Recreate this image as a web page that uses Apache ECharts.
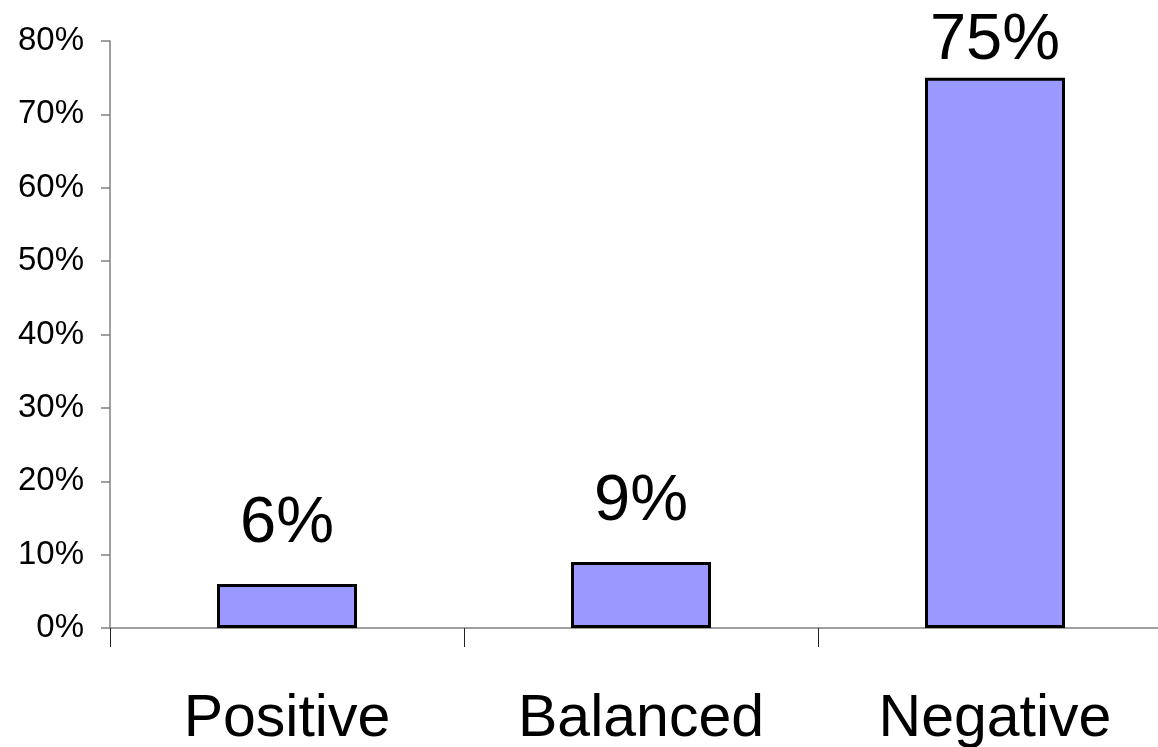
<!DOCTYPE html>
<html>
<head>
<meta charset="utf-8">
<script src="https://cdn.jsdelivr.net/npm/echarts@6/dist/echarts.min.js"></script>
<style>
  html, body { margin: 0; padding: 0; background: #ffffff; }
  #chart { width: 1158px; height: 747px; }
</style>
</head>
<body>
<div id="chart"></div>
<script>
// Share of responses by tone (percent)
const categories = ['Positive', 'Balanced', 'Negative'];
const shares = [6, 9, 75];
const yTicks = { min: 0, max: 80, interval: 10 };

// Value labels sit well above the bars, except when a tall bar leaves no room under the top edge
const barData = shares.map(v => ({
  value: v,
  label: { distance: v > yTicks.max - 10 ? 4 : 27 }
}));

const chart = echarts.init(document.getElementById('chart'), null, { renderer: 'canvas' });

chart.setOption({
  animation: false,
  backgroundColor: '#ffffff',
  // the last category band runs a little past the right edge of the canvas
  grid: {
    left: 110, width: 1062, top: 41, bottom: 119,
    containLabel: false,
    outerBoundsMode: 'none'
  },
  xAxis: {
    type: 'category',
    data: categories,
    boundaryGap: true,
    axisLine: { show: true, lineStyle: { color: '#808080', width: 1.5 } },
    axisTick: { show: true, alignWithLabel: false, length: 19, lineStyle: { color: '#222222', width: 1 } },
    axisLabel: {
      color: '#000000',
      fontFamily: 'Liberation Sans, Arial, sans-serif',
      fontSize: 59,
      margin: 62
    },
    splitLine: { show: false }
  },
  yAxis: {
    type: 'value',
    min: yTicks.min,
    max: yTicks.max,
    interval: yTicks.interval,
    axisLine: { show: true, lineStyle: { color: '#808080', width: 1.5 } },
    axisTick: { show: true, length: 9, lineStyle: { color: '#808080', width: 1.5 } },
    axisLabel: {
      color: '#000000',
      fontFamily: 'Liberation Sans, Arial, sans-serif',
      fontSize: 33,
      margin: 26,
      formatter: '{value}%'
    },
    splitLine: { show: false }
  },
  series: [{
    type: 'bar',
    data: barData,
    barWidth: 140,
    itemStyle: { color: '#9999ff', borderColor: '#000000', borderWidth: 3 },
    label: {
      show: true,
      position: 'top',
      color: '#000000',
      fontFamily: 'Liberation Sans, Arial, sans-serif',
      fontSize: 65,
      formatter: '{c}%'
    }
  }]
});
</script>
</body>
</html>
